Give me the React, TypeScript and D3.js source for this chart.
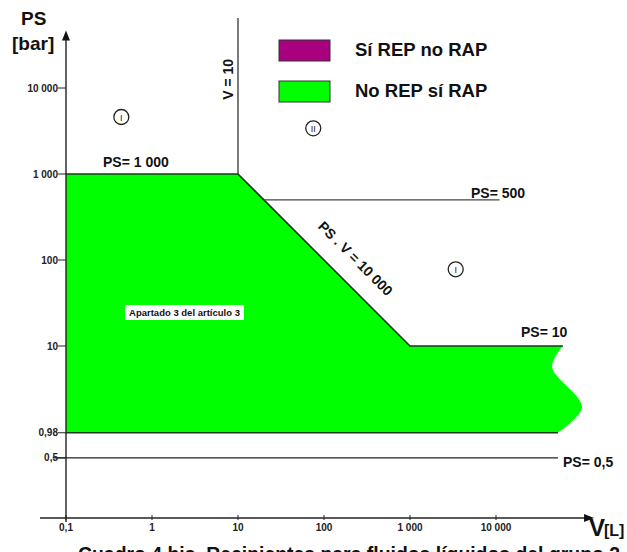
import React from 'react';
import * as d3 from 'd3';

// volumen V [L] y presión PS [bar], ejes logarítmicos
const xTickValues = [0.1, 1, 10, 100, 1000, 10000];
const xTickLabels = ['0,1', '1', '10', '100', '1 000', '10 000'];
const yTickValues = [0.5, 0.98, 10, 100, 1000, 10000];
const yTickLabels = ['0,5', '0,98', '10', '100', '1 000', '10 000'];

// frontera de la zona "No REP sí RAP"
const boundaryV = [0.1, 10, 1000, 60000];
const boundaryPS = [1000, 1000, 10, 10];
// corte ondulado a la derecha
const waveV = [60000, 45000, 100000, 52500];
const wavePS = [10, 5.7, 1.95, 0.98];
const floorPS = 0.98;

// líneas límite
const limitV10 = { v: 10, psFrom: 1000, psTo: 65000 };
const limit500 = { ps: 500, vFrom: 20, vTo: 11000 };
const limit05 = { ps: 0.5, vFrom: 0.07, vTo: 52500 };

const legendItems = [
  { label: 'Sí REP no RAP', color: '#a8007f' },
  { label: 'No REP sí RAP', color: '#00ff00' },
];

const regionMarks = [
  { label: 'I', v: 0.44, ps: 4600 },
  { label: 'II', v: 75, ps: 3400 },
  { label: 'I', v: 3400, ps: 78 },
];

const font = '"Liberation Sans", Arial, sans-serif';

const App = () => {
  const width = 627;
  const height = 552;

  const x = d3.scaleLog().domain([0.1, 10000]).range([66, 496]);
  const y = d3.scaleLog().domain([0.1, 10000]).range([518, 88]);

  const straight = d3.line<[number, number]>()
    .x(d => x(d[0]))
    .y(d => y(d[1]));
  const curvy = d3.line<[number, number]>()
    .x(d => x(d[0]))
    .y(d => y(d[1]))
    .curve(d3.curveCatmullRom.alpha(0.5));

  const top = boundaryV.map((v, i) => [v, boundaryPS[i]] as [number, number]);
  const wave = waveV.map((v, i) => [v, wavePS[i]] as [number, number]);
  const areaPath =
    straight(top) +
    (curvy(wave) || '').replace(/^M/, 'L') +
    'L' + x(0.1) + ',' + y(floorPS) + 'Z';

  const axisX0 = x(0.1);
  const axisY0 = y(0.1);
  const xArrow = x(10 ** 5.14);
  const yArrow = y(10 ** 4.67);

  const diagMid = [x(10 ** 2.326), y(10 ** 1.977)];

  return (
    <svg width={width} height={height} style={{ position: 'absolute', left: 0, top: 0 }}
      fontFamily={font} fontWeight="bold">
      <rect width={width} height={height} fill="#fff" />

      {/* zona verde */}
      <path d={areaPath} fill="#00ff00" />
      <path d={straight(top) || ''} fill="none" stroke="#1d3a1d" strokeWidth={1.6} />
      <line x1={x(0.1)} x2={x(waveV[3])} y1={y(floorPS)} y2={y(floorPS)} stroke="#1d3a1d" strokeWidth={1.6} />

      {/* líneas límite */}
      <line x1={x(limitV10.v)} x2={x(limitV10.v)} y1={y(limitV10.psFrom)} y2={y(limitV10.psTo)}
        stroke="#333" strokeWidth={1.3} />
      <line x1={x(limit500.vFrom)} x2={x(limit500.vTo)} y1={y(limit500.ps)} y2={y(limit500.ps)}
        stroke="#444" strokeWidth={1.3} />
      <line x1={x(limit05.vFrom)} x2={x(limit05.vTo)} y1={y(limit05.ps)} y2={y(limit05.ps)}
        stroke="#222" strokeWidth={1.4} />

      {/* ejes */}
      <line x1={axisX0} x2={axisX0} y1={axisY0 + 4} y2={yArrow + 6} stroke="#222" strokeWidth={1.4} />
      <path d={`M${axisX0},${yArrow} l-4,10 l8,0 Z`} fill="#111" />
      <line x1={40} x2={xArrow - 6} y1={axisY0} y2={axisY0} stroke="#222" strokeWidth={1.4} />
      <path d={`M${xArrow},${axisY0} l-10,-4 l0,8 Z`} fill="#111" />

      {xTickValues.map((v, i) => (
        <g key={'xt' + i}>
          <line x1={x(v)} x2={x(v)} y1={axisY0 - 3} y2={axisY0 + 2} stroke="#222" />
          <text x={x(v)} y={axisY0 + 13} fontSize={10} textAnchor="middle" fill="#222">{xTickLabels[i]}</text>
        </g>
      ))}
      {yTickValues.map((v, i) => (
        <g key={'yt' + i}>
          <line x1={axisX0 - 8} x2={axisX0} y1={y(v)} y2={y(v)} stroke="#222" />
          <text x={axisX0 - 8} y={y(v) + 3.5} fontSize={10} textAnchor="end" fill="#222">{yTickLabels[i]}</text>
        </g>
      ))}

      {/* títulos de ejes */}
      <text x={21} y={25} fontSize={19} fill="#111">PS</text>
      <text x={12} y={50} fontSize={19} fill="#111">[bar]</text>
      <text x={589} y={536} fontSize={24} fill="#111">V</text>
      <text x={604} y={536} fontSize={16} fill="#111">[L]</text>

      {/* leyenda */}
      {legendItems.map((d, i) => (
        <g key={'lg' + i} transform={`translate(279,${40 + i * 41})`}>
          <rect width={51} height={21} fill={d.color} stroke="#333" strokeWidth={1} />
          <text x={76} y={16} fontSize={18.5} fill="#111">{d.label}</text>
        </g>
      ))}

      {/* marcas de zona */}
      {regionMarks.map((d, i) => (
        <g key={'rm' + i} transform={`translate(${x(d.v)},${y(d.ps)})`}>
          <circle r={7.5} fill="#fff" stroke="#222" strokeWidth={1.3} />
          <text y={3.5} fontSize={9} fontWeight="normal" textAnchor="middle" fill="#222">{d.label}</text>
        </g>
      ))}

      {/* etiquetas de límites */}
      <text x={103} y={167} fontSize={14} fill="#111">PS= 1 000</text>
      <text x={471} y={198} fontSize={14} fill="#111">PS= 500</text>
      <text x={521} y={337} fontSize={14} fill="#111">PS= 10</text>
      <text x={563} y={467} fontSize={14} fill="#111">PS= 0,5</text>
      <text transform={`translate(${x(limitV10.v) - 5},${y(10 ** 4.1)}) rotate(-90)`}
        fontSize={14} textAnchor="middle" fill="#111">V = 10</text>
      <text transform={`translate(${diagMid[0]},${diagMid[1]}) rotate(45)`}
        fontSize={14} textAnchor="middle" fill="#111">PS . V = 10 000</text>

      <rect x={125} y={305} width={119} height={15} fill="#fff" />
      <text x={184.5} y={316} fontSize={9.5} textAnchor="middle" fill="#111">Apartado 3 del artículo 3</text>

      {/* pie (recortado por el borde inferior, como en el original) */}
      <text x={78} y={561} fontSize={20} fill="#111" textLength={542} lengthAdjust="spacingAndGlyphs">
        Cuadro 4 bis. Recipientes para fluidos líquidos del grupo 2
      </text>
    </svg>
  );
};

export default App;
